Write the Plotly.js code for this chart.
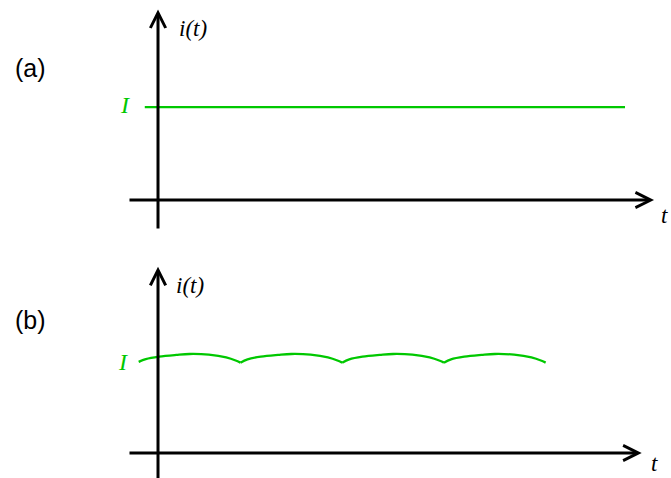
<!DOCTYPE html>
<html>
<head>
<meta charset="utf-8">
<script src="https://cdn.plot.ly/plotly-3.0.1.min.js"></script>
<style>html,body{margin:0;padding:0;background:#fff;}#chart{width:671px;height:478px;}</style>
</head>
<body>
<div id="chart"></div>
<script>
// Panel (a): constant current I
const tA = [-0.13, 4.59];
const iA = [1.0, 1.0];

// Panel (b): rippled current around I (arcs separated by null so cusps stay sharp)
const tB = [
  -0.19, -0.12, 0.01, 0.18, 0.31, 0.50, 0.67, 0.77, 0.81, null,
   0.81,  0.88, 1.01, 1.18, 1.31, 1.50, 1.67, 1.77, 1.81, null,
   1.81,  1.88, 2.01, 2.18, 2.31, 2.50, 2.67, 2.77, 2.81, null,
   2.81,  2.88, 3.01, 3.18, 3.31, 3.50, 3.67, 3.77, 3.81
];
const iB = [
  0.99, 1.02, 1.047, 1.066, 1.076, 1.069, 1.040, 1.003, 0.982, null,
  0.982, 1.018, 1.047, 1.066, 1.076, 1.069, 1.040, 1.003, 0.982, null,
  0.982, 1.018, 1.047, 1.066, 1.076, 1.069, 1.040, 1.003, 0.982, null,
  0.982, 1.018, 1.047, 1.066, 1.076, 1.069, 1.040, 1.003, 0.982
];

const panelLabels = ['(a)', '(b)'];
const yLabel = 'i(t)';
const xLabel = 't';
const levelLabel = 'I';

const green = '#00c800';
const serifIt = 'Liberation Serif, Times New Roman, serif';
const sans = 'Liberation Sans, Arial, sans-serif';

const traces = [
  {x: tA, y: iA, xaxis: 'x', yaxis: 'y', mode: 'lines', line: {color: green, width: 2.3}, hoverinfo: 'skip'},
  {x: tB, y: iB, xaxis: 'x2', yaxis: 'y2', mode: 'lines', connectgaps: false, line: {color: green, width: 2.3, shape: 'spline', smoothing: 1}, hoverinfo: 'skip'}
];

function axisArrow(xr, yr, x, y, ax, ay) {
  return {xref: xr, yref: yr, axref: xr, ayref: yr, x: x, y: y, ax: ax, ay: ay,
    showarrow: true, arrowhead: 5, arrowsize: 1.0, arrowwidth: 3, arrowcolor: '#000',
    standoff: 0, startstandoff: 0, text: ''};
}
function label(xr, yr, x, y, text, font, ya) {
  return {xref: xr, yref: yr, x: x, y: y, text: text, showarrow: false, font: font,
    xanchor: 'center', yanchor: ya || 'middle', borderpad: 0};
}

const annotations = [
  // panel (a)
  axisArrow('x', 'y', 4.875, 0, -0.295, 0),
  axisArrow('x', 'y', 0, 2.05, 0, -0.323),
  label('x', 'y', 0.345, 1.84, '<i>' + yLabel + '</i>', {family: serifIt, size: 23, color: '#000'}),
  label('x', 'y', -0.325, 1.02, '<i>' + levelLabel + '</i>', {family: serifIt, size: 24, color: green}),
  label('x', 'y', 4.98, -0.17, '<i>' + xLabel + '</i>', {family: serifIt, size: 23, color: '#000'}),
  label('x', 'y', -1.255, 1.42, panelLabels[0], {family: sans, size: 25, color: '#000'}),
  // panel (b)
  axisArrow('x2', 'y2', 4.754, 0, -0.295, 0),
  axisArrow('x2', 'y2', 0, 2.025, 0, -0.35),
  label('x2', 'y2', 0.31, 1.826, '<i>' + yLabel + '</i>', {family: serifIt, size: 23, color: '#000'}),
  label('x2', 'y2', -0.34, 0.99, '<i>' + levelLabel + '</i>', {family: serifIt, size: 24, color: green}),
  label('x2', 'y2', 4.875, -0.266, '<i>' + xLabel + '</i>', {family: serifIt, size: 23, color: '#000'}, 'bottom'),
  label('x2', 'y2', -1.255, 1.446, panelLabels[1], {family: sans, size: 25, color: '#000'})
];

const hidden = {showgrid: false, zeroline: false, showticklabels: false, ticks: '', showline: false, fixedrange: true};

const layout = {
  width: 671, height: 478,
  margin: {l: 0, r: 0, t: 0, b: 0, pad: 0},
  paper_bgcolor: '#fff', plot_bgcolor: '#fff',
  showlegend: false,
  xaxis: Object.assign({}, hidden, {domain: [0, 1], range: [-1.553, 5.042], anchor: 'y'}),
  yaxis: Object.assign({}, hidden, {domain: [0.5, 1], range: [-0.419, 2.151], anchor: 'x'}),
  xaxis2: Object.assign({}, hidden, {domain: [0, 1], range: [-1.553, 5.042], anchor: 'y2'}),
  yaxis2: Object.assign({}, hidden, {domain: [0, 0.5], range: [-0.272, 2.326], anchor: 'x2'}),
  annotations: annotations
};

Plotly.newPlot('chart', traces, layout, {staticPlot: true, displayModeBar: false});
</script>
</body>
</html>
